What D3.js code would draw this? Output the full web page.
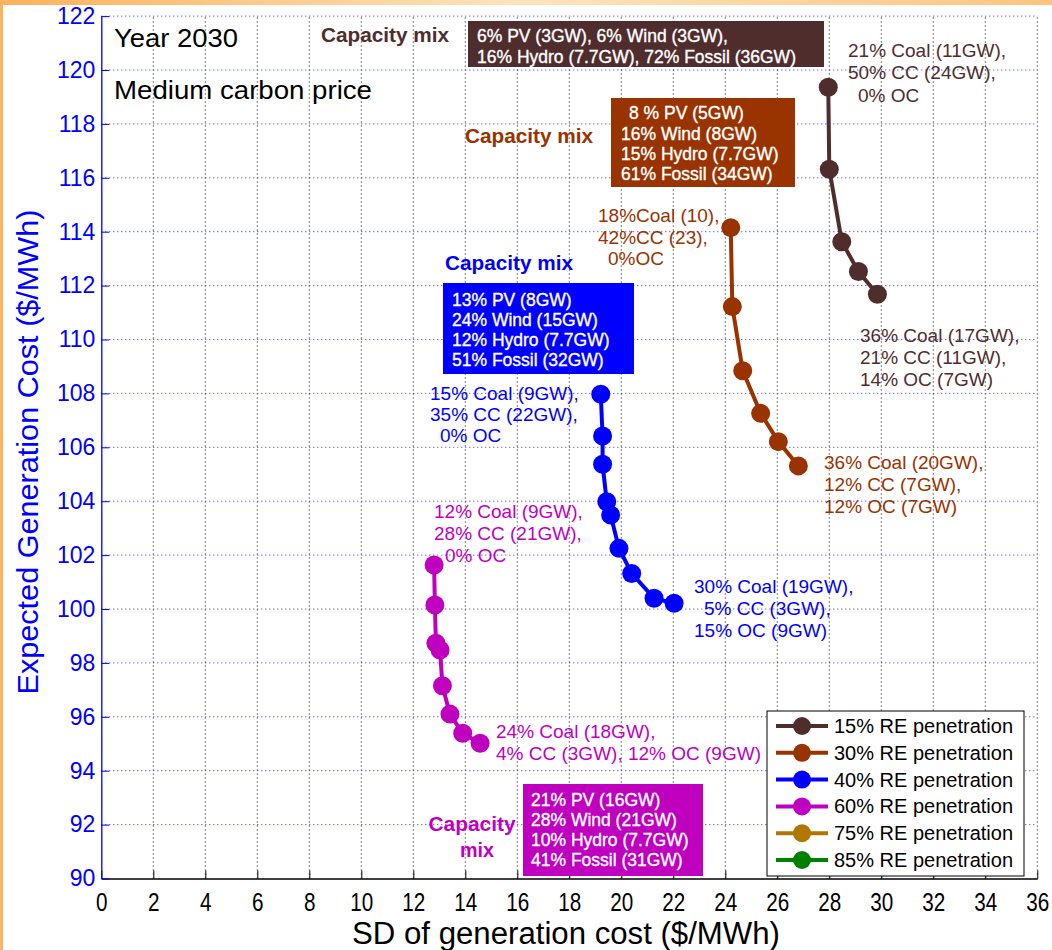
<!DOCTYPE html>
<html>
<head>
<meta charset="utf-8">
<script src="https://cdn.jsdelivr.net/npm/d3@7"></script>
<style>
  html, body { margin: 0; padding: 0; background: #ffffff; }
  svg { display: block; }
  text { font-family: "Liberation Sans", Arial, sans-serif; }
</style>
</head>
<body>
<svg id="chart" width="1052" height="950"></svg>
<script>
// ---------------- DATA ----------------
const seriesNames = ["15% RE penetration", "30% RE penetration", "40% RE penetration",
                     "60% RE penetration", "75% RE penetration", "85% RE penetration"];
const seriesColors = ["#502d2d", "#993300", "#0000ff", "#bf00bf", "#b07800", "#008000"];

// SD of generation cost ($/MWh)  and  Expected generation cost ($/MWh)
const sd15   = [27.96, 28.00, 28.48, 29.12, 29.85];
const cost15 = [119.36, 116.32, 113.63, 112.52, 111.68];

const sd30   = [24.21, 24.27, 24.67, 25.36, 26.04, 26.81];
const cost30 = [114.15, 111.22, 108.84, 107.26, 106.21, 105.31];

const sd40   = [19.21, 19.28, 19.28, 19.44, 19.59, 19.91, 20.40, 21.26, 22.03];
const cost40 = [107.97, 106.42, 105.37, 103.98, 103.49, 102.25, 101.32, 100.40, 100.21];

const sd60   = [12.80, 12.83, 12.87, 13.03, 13.12, 13.41, 13.90, 14.57];
const cost60 = [101.63, 100.15, 98.73, 98.48, 97.15, 96.10, 95.39, 95.02];

const sd75 = [], cost75 = [];
const sd85 = [], cost85 = [];

const xTickValues = [0, 2, 4, 6, 8, 10, 12, 14, 16, 18, 20, 22, 24, 26, 28, 30, 32, 34, 36];
const yTickValues = [90, 92, 94, 96, 98, 100, 102, 104, 106, 108, 110, 112, 114, 116, 118, 120, 122];

const xTitle = "SD of generation cost ($/MWh)";
const yTitle = "Expected Generation Cost ($/MWh)";

// ---------------- LAYOUT ----------------
const svg = d3.select("#chart");
const x = d3.scaleLinear().domain([0, 36]).range([101.3, 1037.3]);
const y = d3.scaleLinear().domain([90, 122]).range([878.5, 16.1]);

// slide-like orange frame
const defs = svg.append("defs");
const gTop = defs.append("linearGradient").attr("id", "topGrad").attr("x1", "0").attr("x2", "1");
gTop.append("stop").attr("offset", "0").attr("stop-color", "#fab25c");
gTop.append("stop").attr("offset", "0.5").attr("stop-color", "#fde3bd");
gTop.append("stop").attr("offset", "1").attr("stop-color", "#fbc47f");
svg.append("rect").attr("x", 0).attr("y", 0).attr("width", 1052).attr("height", 5).attr("fill", "url(#topGrad)");
svg.append("rect").attr("x", 0).attr("y", 0).attr("width", 3).attr("height", 950).attr("fill", "#fbb562");

// grid
const grid = svg.append("g");
grid.selectAll("line.vg").data(xTickValues.slice(1)).join("line")
  .attr("x1", d => x(d)).attr("x2", d => x(d))
  .attr("y1", y(90)).attr("y2", y(122))
  .attr("stroke", "#000").attr("stroke-width", 1).attr("stroke-dasharray", "1,3");
grid.selectAll("line.hg").data(yTickValues.slice(1)).join("line")
  .attr("x1", x(0)).attr("x2", x(36))
  .attr("y1", d => y(d)).attr("y2", d => y(d))
  .attr("stroke", "#2a2aff").attr("stroke-width", 1).attr("stroke-dasharray", "1,3");

// axes
const xAxis = svg.append("g").attr("transform", `translate(0,${y(90)})`)
  .call(d3.axisBottom(x).tickValues(xTickValues).tickFormat(d3.format("d"))
        .tickSizeInner(-8).tickSizeOuter(0).tickPadding(15));
xAxis.select(".domain").attr("stroke", "#000").attr("stroke-width", 1.3);
xAxis.selectAll(".tick line").attr("stroke", "#000");
xAxis.selectAll(".tick").each(function(d){
  d3.select(this).select("text").attr("fill", "#000")
    .style("font-size", "25px").attr("textLength", String(d).length * 11.5)
    .attr("lengthAdjust", "spacingAndGlyphs");
});

const yAxis = svg.append("g").attr("transform", `translate(${x(0)},0)`)
  .call(d3.axisLeft(y).tickValues(yTickValues).tickFormat(d3.format("d"))
        .tickSizeInner(-8).tickSizeOuter(0).tickPadding(6));
yAxis.select(".domain").attr("stroke", "#0000ff").attr("stroke-width", 1.3);
yAxis.selectAll(".tick line").attr("stroke", "#0000ff");
yAxis.selectAll("text").attr("fill", "#0000ff").style("font-size", "23px");

// axis titles
svg.append("text").attr("x", 566).attr("y", 933).attr("text-anchor", "middle")
  .attr("dominant-baseline", "central").style("font-size", "31px").attr("fill", "#000")
  .attr("textLength", 428).attr("lengthAdjust", "spacingAndGlyphs").text(xTitle);
svg.append("text").attr("transform", "translate(27,452) rotate(-90)").attr("text-anchor", "middle")
  .attr("dominant-baseline", "central").style("font-size", "30px").attr("fill", "#0000ff")
  .attr("textLength", 485).attr("lengthAdjust", "spacingAndGlyphs").text(yTitle);

// ---------------- SERIES ----------------
const allSeries = [
  {sd: sd15, cost: cost15}, {sd: sd30, cost: cost30}, {sd: sd40, cost: cost40},
  {sd: sd60, cost: cost60}, {sd: sd75, cost: cost75}, {sd: sd85, cost: cost85}
];
const line = d3.line().x(d => x(d[0])).y(d => y(d[1]));
const marks = svg.append("g");
allSeries.forEach((s, i) => {
  const pts = s.sd.map((v, k) => [v, s.cost[k]]);
  if (!pts.length) return;
  marks.append("path").datum(pts).attr("d", line).attr("fill", "none")
    .attr("stroke", seriesColors[i]).attr("stroke-width", 4);
  marks.selectAll(null).data(pts).join("circle")
    .attr("cx", d => x(d[0])).attr("cy", d => y(d[1])).attr("r", 9.5)
    .attr("fill", seriesColors[i]);
});

// ---------------- ANNOTATIONS ----------------
const ann = svg.append("g");
function txt(xp, yp, s, color, size, opts = {}) {
  const t = ann.append("text").attr("x", xp).attr("y", yp).attr("dominant-baseline", "central")
    .style("font-size", size + "px").attr("fill", color).text(s);
  if (opts.bold) t.style("font-weight", "bold");
  if (opts.anchor) t.attr("text-anchor", opts.anchor);
  if (opts.len) t.attr("textLength", opts.len).attr("lengthAdjust", "spacingAndGlyphs");
  if (opts.thick) t.attr("stroke", color).attr("stroke-width", 0.35);
  return t;
}
function box(x0, y0, x1, y1, color) {
  ann.append("rect").attr("x", x0).attr("y", y0).attr("width", x1 - x0).attr("height", y1 - y0)
    .attr("fill", color);
}
const W = {thick: true};

txt(114, 38, "Year 2030", "#000", 26, {len: 124});
txt(114, 90, "Medium carbon price", "#000", 26, {len: 258});

// 15%
const c15 = seriesColors[0];
txt(321, 34, "Capacity mix", c15, 21, {bold: true, len: 128});
box(468, 21, 824, 67, c15);
txt(477, 36, "6% PV (3GW), 6% Wind (3GW),", "#fff", 17.5, W);
txt(477, 57, "16% Hydro (7.7GW), 72% Fossil (36GW)", "#fff", 17.5, W);
txt(848, 50, "21% Coal (11GW),", c15, 19);
txt(848, 72.5, "50% CC (24GW),", c15, 19);
txt(858, 95, "0% OC", c15, 19);
txt(860, 335, "36% Coal (17GW),", c15, 19);
txt(860, 357, "21% CC (11GW),", c15, 19);
txt(860, 379, "14% OC (7GW)", c15, 19);

// 30%
const c30 = seriesColors[1];
txt(465, 135, "Capacity mix", c30, 21, {bold: true, len: 128});
box(611, 98, 795, 187, c30);
txt(629, 113, "8 % PV (5GW)", "#fff", 17.5, W);
txt(621, 133.5, "16% Wind (8GW)", "#fff", 17.5, W);
txt(621, 153.5, "15% Hydro (7.7GW)", "#fff", 17.5, W);
txt(621, 173.5, "61% Fossil (34GW)", "#fff", 17.5, W);
txt(598, 215, "18%Coal (10),", c30, 19);
txt(598, 237, "42%CC (23),", c30, 19);
txt(608, 258.5, "0%OC", c30, 19);
txt(824, 462, "36% Coal (20GW),", c30, 19);
txt(824, 484, "12% CC (7GW),", c30, 19);
txt(824, 506, "12% OC (7GW)", c30, 19);

// 40%
const c40 = seriesColors[2];
txt(445, 262, "Capacity mix", c40, 21, {bold: true, len: 128});
box(443, 283, 634, 374, c40);
txt(452, 300, "13% PV (8GW)", "#fff", 17.5, W);
txt(452, 319.5, "24% Wind (15GW)", "#fff", 17.5, W);
txt(452, 339.5, "12% Hydro (7.7GW)", "#fff", 17.5, W);
txt(452, 359.5, "51% Fossil (32GW)", "#fff", 17.5, W);
txt(430, 393.5, "15% Coal (9GW),", c40, 19);
txt(430, 414, "35% CC (22GW),", c40, 19);
txt(440, 435, "0% OC", c40, 19);
txt(694, 586, "30% Coal (19GW),", c40, 19);
txt(704, 608, "5% CC (3GW),", c40, 19);
txt(694, 630, "15% OC (9GW)", c40, 19);

// 60%
const c60 = seriesColors[3];
txt(434, 511, "12% Coal (9GW),", c60, 19);
txt(434, 533, "28% CC (21GW),", c60, 19);
txt(445, 555, "0% OC", c60, 19);
txt(496, 731.5, "24% Coal (18GW),", c60, 19);
txt(496, 753.5, "4% CC (3GW), 12% OC (9GW)", c60, 19);
txt(472, 823, "Capacity", c60, 21, {bold: true, anchor: "middle", len: 87});
txt(477, 849, "mix", c60, 21, {bold: true, anchor: "middle", len: 34});
box(523, 784, 703, 876, c60);
txt(531, 800, "21% PV (16GW)", "#fff", 17.5, W);
txt(531, 820, "28% Wind (21GW)", "#fff", 17.5, W);
txt(531, 840, "10% Hydro (7.7GW)", "#fff", 17.5, W);
txt(531, 860, "41% Fossil (31GW)", "#fff", 17.5, W);

// ---------------- LEGEND ----------------
const leg = svg.append("g");
leg.append("rect").attr("x", 767).attr("y", 711).attr("width", 257).attr("height", 165)
  .attr("fill", "#fff").attr("stroke", "#000").attr("stroke-width", 1);
const legY = d3.scalePoint().domain(seriesNames).range([726, 860]);
seriesNames.forEach((name, i) => {
  const yy = legY(name);
  leg.append("line").attr("x1", 776).attr("x2", 828).attr("y1", yy).attr("y2", yy)
    .attr("stroke", seriesColors[i]).attr("stroke-width", 4);
  leg.append("circle").attr("cx", 802).attr("cy", yy).attr("r", 9).attr("fill", seriesColors[i]);
  leg.append("text").attr("x", 834).attr("y", yy).attr("dominant-baseline", "central")
    .style("font-size", "20px").attr("fill", "#000").text(name);
});
</script>
</body>
</html>
